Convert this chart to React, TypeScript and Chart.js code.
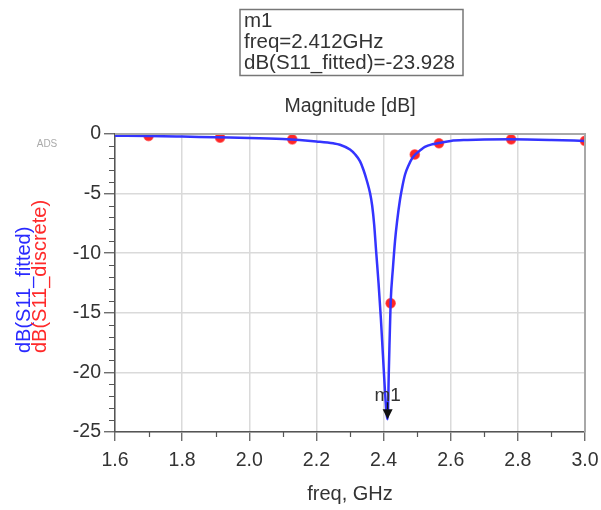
import React, { useEffect, useRef } from "react";
import { Chart, registerables } from "chart.js";
Chart.register(...registerables);

// ---- data ----
const fittedFreq = [1.6, 1.7, 1.8, 1.9, 2.0, 2.1, 2.15, 2.2, 2.25, 2.27, 2.3, 2.315, 2.33, 2.34, 2.35, 2.36, 2.366, 2.372, 2.378, 2.385, 2.392, 2.398, 2.404, 2.409, 2.412, 2.416, 2.421, 2.428, 2.434, 2.44, 2.449, 2.456, 2.464, 2.475, 2.485, 2.494, 2.51, 2.523, 2.545, 2.565, 2.6, 2.65, 2.7, 2.78, 2.9, 3.0];
const fittedDb = [-0.15, -0.17, -0.22, -0.28, -0.33, -0.42, -0.5, -0.62, -0.78, -0.9, -1.3, -1.7, -2.3, -3.0, -3.9, -5.0, -6.0, -7.6, -9.9, -12.5, -15.5, -18.5, -21.5, -23.5, -23.93, -19.5, -14.2, -11.2, -9.0, -7.4, -5.5, -4.4, -3.4, -2.6, -2.05, -1.72, -1.35, -1.08, -0.86, -0.76, -0.58, -0.5, -0.46, -0.45, -0.5, -0.58];
const discreteFreq = [1.7, 1.913, 2.128, 2.421, 2.493, 2.565, 2.78, 3.0];
const discreteDb = [-0.17, -0.3, -0.45, -14.2, -1.72, -0.78, -0.45, -0.58];
const markerName = "m1";
const markerFreq = 2.412;
const markerDb = -23.928;
const markerLines = ["m1", "freq=2.412GHz", "dB(S11_fitted)=-23.928"];
const chartTitle = "Magnitude [dB]";
const xTitle = "freq, GHz";
const yTitleFitted = "dB(S11_fitted)";
const yTitleDiscrete = "dB(S11_discrete)";

const FONT = "'Liberation Sans', Arial, sans-serif";

const decoPlugin = {
  id: "deco",
  afterDraw(chart: any) {
    const ctx = chart.ctx;
    const a = chart.chartArea;
    const xs = chart.scales.x;
    const ys = chart.scales.y;
    ctx.save();
    // top and right frame
    ctx.strokeStyle = "#a8a8a8";
    ctx.lineWidth = 2;
    ctx.beginPath();
    ctx.moveTo(a.left, a.top);
    ctx.lineTo(a.right, a.top);
    ctx.lineTo(a.right, a.bottom);
    ctx.stroke();
    // minor ticks
    ctx.strokeStyle = "#555";
    ctx.lineWidth = 1.2;
    ctx.beginPath();
    for (let i = -25; i <= 0; i++) {
      if (i % 5 === 0) continue;
      const py = Math.round(ys.getPixelForValue(i)) + 0.5;
      ctx.moveTo(a.left - 6, py);
      ctx.lineTo(a.left, py);
    }
    for (let k = 16; k <= 30; k++) {
      if (k % 2 === 0) continue;
      const px = Math.round(xs.getPixelForValue(k / 10)) + 0.5;
      ctx.moveTo(px, a.bottom);
      ctx.lineTo(px, a.bottom + 5);
    }
    ctx.stroke();

    // marker arrow
    const mx = xs.getPixelForValue(markerFreq);
    const my = ys.getPixelForValue(markerDb);
    ctx.fillStyle = "#111";
    ctx.strokeStyle = "#111";
    ctx.lineWidth = 1.5;
    ctx.beginPath();
    ctx.moveTo(mx, my - 10);
    ctx.lineTo(mx, my - 17);
    ctx.stroke();
    ctx.beginPath();
    ctx.moveTo(mx, my);
    ctx.lineTo(mx - 5, my - 10);
    ctx.lineTo(mx + 5, my - 10);
    ctx.closePath();
    ctx.fill();
    ctx.fillStyle = "#333";
    ctx.font = `19px ${FONT}`;
    ctx.textAlign = "center";
    ctx.textBaseline = "middle";
    ctx.fillText(markerName, mx, my - 23);

    // title
    ctx.font = `19.5px ${FONT}`;
    ctx.fillStyle = "#333";
    ctx.fillText(chartTitle, (a.left + a.right) / 2, 107);

    // marker box
    ctx.strokeStyle = "#777";
    ctx.lineWidth = 1.5;
    ctx.strokeRect(240, 9.5, 223, 66);
    ctx.textAlign = "left";
    ctx.font = `20.5px ${FONT}`;
    ctx.fillStyle = "#333";
    markerLines.forEach((t, i) => ctx.fillText(t, 244, 21 + i * 21));

    // ADS
    ctx.font = `10px ${FONT}`;
    ctx.fillStyle = "#aaa";
    ctx.textAlign = "center";
    ctx.fillText("ADS", 47, 144);

    // y titles
    ctx.font = `20px ${FONT}`;
    ctx.textAlign = "left";
    ctx.textBaseline = "middle";
    ctx.save();
    ctx.translate(24, 353);
    ctx.rotate(-Math.PI / 2);
    ctx.fillStyle = "#2a2aff";
    ctx.fillText(yTitleFitted, 0, 0);
    ctx.restore();
    ctx.save();
    ctx.translate(40, 353);
    ctx.rotate(-Math.PI / 2);
    ctx.fillStyle = "#ff2a2a";
    ctx.fillText(yTitleDiscrete, 0, 0);
    ctx.restore();

    ctx.restore();
  },
};

export default function App() {
  const ref = useRef<HTMLCanvasElement>(null);
  useEffect(() => {
    if (!ref.current) return;
    const chart = new Chart(ref.current, {
      type: "scatter",
      data: {
        datasets: [
          {
            label: "fitted",
            data: fittedFreq.map((f, i) => ({ x: f, y: fittedDb[i] })),
            showLine: true,
            borderColor: "#3434ff",
            backgroundColor: "#3434ff",
            borderWidth: 2.5,
            pointRadius: 0,
            cubicInterpolationMode: "monotone",
            order: 0,
          },
          {
            label: "discrete",
            data: discreteFreq.map((f, i) => ({ x: f, y: discreteDb[i] })),
            showLine: false,
            pointRadius: 4.8,
            pointBackgroundColor: "#ff2626",
            pointBorderColor: "rgba(255,60,60,0.6)",
            pointBorderWidth: 1.2,
            order: 1,
          },
        ],
      },
      options: {
        responsive: false,
        animation: false,
        events: [],
        layout: { padding: { top: 134, right: 16, left: 0, bottom: 0 } },
        plugins: { legend: { display: false }, tooltip: { enabled: false }, title: { display: false } },
        scales: {
          x: {
            type: "linear",
            min: 1.6,
            max: 3.0,
            afterFit: (s: any) => { s.height = 78; s.paddingLeft = 0; s.paddingRight = 0; },
            ticks: {
              stepSize: 0.2,
              maxRotation: 0,
              autoSkip: false,
              padding: 8,
              color: "#333",
              font: { family: FONT, size: 19.5 },
              callback: (v: any) => Number(v).toFixed(1),
            },
            grid: { color: "#dadada", lineWidth: 1.5, tickColor: "#555", tickLength: 9, tickWidth: 1.2 },
            border: { color: "#555", width: 1.5 },
            title: { display: true, text: xTitle, color: "#333", font: { family: FONT, size: 20 }, padding: { top: 0, bottom: 4 } },
          },
          y: {
            type: "linear",
            min: -25,
            max: 0,
            afterFit: (s: any) => { s.width = 115; s.paddingTop = 0; s.paddingBottom = 0; },
            ticks: {
              stepSize: 5,
              autoSkip: false,
              padding: 3,
              color: "#333",
              font: { family: FONT, size: 19.5 },
            },
            grid: { color: "#dadada", lineWidth: 1.5, tickColor: "#555", tickLength: 11, tickWidth: 1.2 },
            border: { color: "#555", width: 1.5 },
          },
        },
      },
      plugins: [decoPlugin],
    } as any);
    return () => chart.destroy();
  }, []);
  return (
    <div style={{ position: "absolute", left: 0, top: 0, width: 601, height: 510, background: "#fff" }}>
      <canvas ref={ref} width={601} height={510} style={{ display: "block" }} />
    </div>
  );
}
